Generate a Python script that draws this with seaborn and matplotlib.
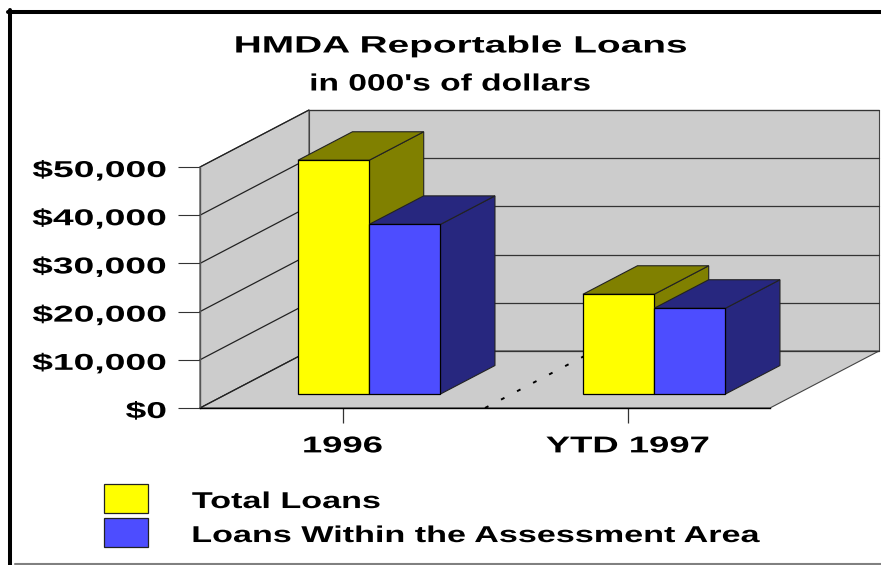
import matplotlib
matplotlib.use("Agg")
import matplotlib.pyplot as plt
import pandas as pd
import seaborn as sns
from matplotlib.lines import Line2D
from matplotlib.patches import Patch, Polygon
from matplotlib.patheffects import AbstractPathEffect
from matplotlib.transforms import Affine2D, IdentityTransform

# ---- data ----
periods = ["1996", "YTD 1997"]
series_names = ["Total Loans", "Loans Within the Assessment Area"]
total_loans = [48500, 20700]
loans_within = [35200, 17800]
y_ticks = [0, 10000, 20000, 30000, 40000, 50000]
y_tick_labels = ["$0", "$10,000", "$20,000", "$30,000", "$40,000", "$50,000"]
title_text = "HMDA Reportable Loans"
subtitle_text = "in 000's of dollars"

# ---- styles ----
FRONT = {"Total Loans": "#FFFF00", "Loans Within the Assessment Area": "#4D4DFF"}
SHADE = {"Total Loans": "#808000", "Loans Within the Assessment Area": "#27277F"}
WALL = "#CCCCCC"
W, H = 881, 565
DEPTH_X, DEPTH_Y = 109, 57   # px shift from the front to the back of the floor
BAR_FRONT, BAR_BACK = 0.245, 0.745


class Stretch(AbstractPathEffect):
    """Widen the glyphs horizontally about a pivot (0 left, .5 centre, 1 right)."""
    def __init__(self, sx, pivot=0.0, dy=0.0):
        super().__init__()
        self.sx, self.pivot, self.dy = sx, pivot, dy

    def draw_path(self, renderer, gc, tpath, affine, rgbFace=None):
        ext = tpath.get_extents()
        px = ext.x0 + self.pivot * ext.width
        aff = (Affine2D().translate(-px, 0).scale(self.sx, 1).translate(px, 0)
               + affine + Affine2D().translate(0, self.dy))
        renderer.draw_path(gc, tpath, aff, rgbFace)


sns.set_theme(style="white")
plt.rcParams["font.family"] = ["Liberation Sans"]
plt.rcParams["font.weight"] = "bold"

fig = plt.figure(figsize=(W / 100, H / 100), dpi=100, facecolor="white")
ax = fig.add_axes([200 / W, (H - 408) / H, 570 / W, 241 / H])
ax.patch.set_visible(False)

df = pd.DataFrame({
    "period": periods * 2,
    "series": [series_names[0]] * 2 + [series_names[1]] * 2,
    "value": total_loans + loans_within,
})
sns.barplot(data=df, x="period", y="value", hue="series", palette=FRONT,
            width=0.5, gap=0, dodge=True, saturation=1, legend=False,
            edgecolor="black", linewidth=0.9, ax=ax)
ax.set_xlim(-0.5, 1.5)
ax.set_ylim(0, 50000)
ax.set_xlabel("")
ax.set_ylabel("")


def project(x, y, depth):
    px, py = ax.transData.transform((x, y))
    return (px + DEPTH_X * depth, py + DEPTH_Y * depth)


def poly(points, color, z, edge="#222222", lw=0.8):
    ax.add_patch(Polygon(points, closed=True, facecolor=color, edgecolor=edge, linewidth=lw,
                         transform=IdentityTransform(), clip_on=False, zorder=z))


def seg(a, b, z=1.5, color="#222222", lw=0.9, ls="-"):
    ax.add_line(Line2D([a[0], b[0]], [a[1], b[1]], color=color, lw=lw, ls=ls,
                       transform=IdentityTransform(), clip_on=False, zorder=z))


x0, x1 = ax.get_xlim()
y0, y1 = ax.get_ylim()
# walls and floor
poly([project(x0, y0, 1), project(x1, y0, 1), project(x1, y1, 1), project(x0, y1, 1)], WALL, 1, "#444444")
poly([project(x0, y0, 0), project(x0, y0, 1), project(x0, y1, 1), project(x0, y1, 0)], WALL, 1, "#444444")
poly([project(x0, y0, 0), project(x0, y0, 1), project(x1, y0, 1), project(x1, y0, 0)], WALL, 1, "#444444")
for v in y_ticks:
    seg(project(x0, v, 0), project(x0, v, 1))
    seg(project(x0, v, 1), project(x1, v, 1), color="#333333")
# dotted divider between the two categories on the floor
seg(project(0.5, 0, 0), project(0.5, 0, 1), color="black", lw=1.4, ls=(0, (2, 7.3)), z=1.6)

# extrude every bar
bars = []
for container, name in zip(ax.containers, series_names):
    for bar in container:
        bars.append((bar, name))
bars.sort(key=lambda t: t[0].get_x())
shift = ax.transData + Affine2D().translate(DEPTH_X * BAR_FRONT, DEPTH_Y * BAR_FRONT)
for i, (bar, name) in enumerate(bars):
    z = 3 + i
    xl, xr, top = bar.get_x(), bar.get_x() + bar.get_width(), bar.get_height()
    poly([project(xr, 0, BAR_FRONT), project(xr, 0, BAR_BACK),
          project(xr, top, BAR_BACK), project(xr, top, BAR_FRONT)], SHADE[name], z)
    poly([project(xl, top, BAR_FRONT), project(xr, top, BAR_FRONT),
          project(xr, top, BAR_BACK), project(xl, top, BAR_BACK)], SHADE[name], z)
    bar.set_transform(shift)
    bar.set_clip_on(False)
    bar.set_zorder(z + 0.5)

# axes, ticks, labels
sns.despine(ax=ax, top=True, right=True)
ax.spines["bottom"].set_color("black")
ax.spines["bottom"].set_linewidth(1.0)
ax.spines["left"].set_color("#555555")
ax.spines["left"].set_linewidth(1.0)
ax.set_yticks(y_ticks, y_tick_labels)
ax.tick_params(axis="y", left=True, length=16, width=0.8, color="#333333", pad=8.2, labelsize=16.5)
ax.tick_params(axis="x", bottom=True, length=10.5, width=0.9, color="#333333", pad=8.5, labelsize=16.5)
for lab in ax.get_yticklabels():
    lab.set_path_effects([Stretch(1.625, 1.0, -1)])
    lab.set_color("black")
for lab in ax.get_xticklabels():
    lab.set_path_effects([Stretch(1.59, 0.5)])
    lab.set_color("black")

# titles
fig.text(461 / W, 1 - 46 / H, title_text, ha="center", va="center", fontsize=17, color="black",
         path_effects=[Stretch(1.645, 0.5)])
fig.text(450.5 / W, 1 - 84 / H, subtitle_text, ha="center", va="center", fontsize=17, color="black",
         path_effects=[Stretch(1.42, 0.5)])

# legend
fs = 16.5
fpx = fs * 100 / 72
handles = [Patch(facecolor=FRONT[n], edgecolor="#222222", linewidth=0.9) for n in series_names]
leg = ax.legend(handles, series_names, loc="upper left", frameon=False, fontsize=fs,
                bbox_to_anchor=(104 / W, 1 - 484 / H), bbox_transform=fig.transFigure,
                borderaxespad=0, borderpad=0, handlelength=44 / fpx,
                handleheight=1.57, handletextpad=44 / fpx,
                labelspacing=5 / fpx)
for t in leg.get_texts():
    t.set_color("black")
    t.set_path_effects([Stretch(1.49, 0.0, -2)])

# page border
fig.add_artist(Line2D([8 / W, 1], [1 - 12 / H] * 2, color="black", lw=2.9, transform=fig.transFigure))
fig.add_artist(Line2D([10 / W] * 2, [0, 1 - 10 / H], color="black", lw=2.9, transform=fig.transFigure))
fig.add_artist(Line2D([15 / W, 1], [1 - 564 / H] * 2, color="#808080", lw=1.5, transform=fig.transFigure))

fig.savefig("out.png", dpi=100, facecolor="white")
